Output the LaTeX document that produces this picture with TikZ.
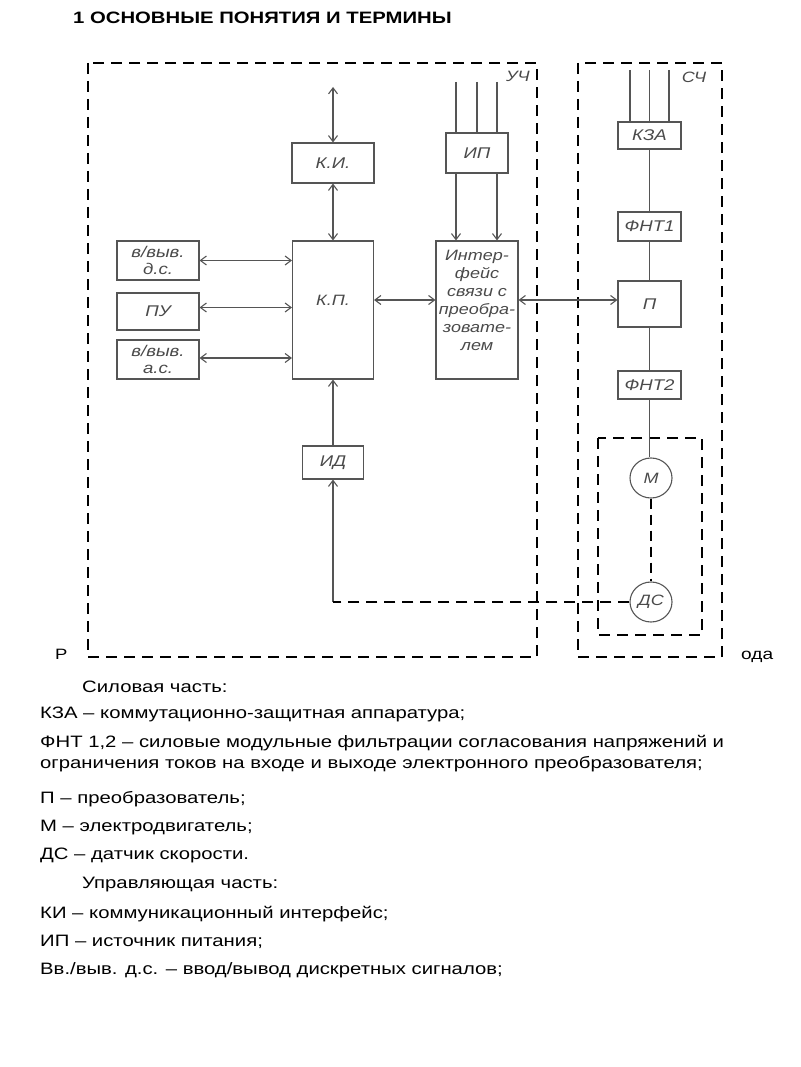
\documentclass[tikz,border=0pt]{standalone}
\usepackage{fontspec}
\setmainfont{Liberation Sans}
\newfontfamily\bodyfont[FakeStretch=1.23]{Liberation Sans}
\newfontfamily\diafont[FakeStretch=1.2]{Liberation Sans}
\usetikzlibrary{arrows.meta,shapes.geometric}
\definecolor{lg}{HTML}{555555}
\definecolor{tg}{HTML}{4A4A4A}
\begin{document}
\begin{tikzpicture}[x=1pt,y=-1pt,
  >={Straight Barb[length=6pt,width=9pt]},
  blk/.style={draw=lg, line width=1.1pt, fill=white, inner sep=0pt,
    font=\diafont\itshape\fontsize{15.5}{17}\selectfont, text=tg, align=center},
  ring/.style={ellipse, draw=lg, line width=1.1pt, minimum width=42pt,
    minimum height=40pt, inner sep=0pt,
    font=\diafont\itshape\fontsize{15}{16}\selectfont, text=tg},
  dtext/.style={inner sep=0pt, font=\diafont\itshape\fontsize{15}{18}\selectfont,
    text=tg, align=center},
  wire/.style={draw=lg, line width=1.1pt},
  biarrow/.style={wire,<->},
  frame/.style={draw=black, line width=2.4pt, dash pattern=on 11pt off 7pt},
  body/.style={anchor=base west, inner sep=0pt,
    font=\bodyfont\fontsize{16.5}{20}\selectfont, text=black}
]
\useasboundingbox (0,0) rectangle (800,1067);

% title
\node[anchor=base west, inner sep=0pt, font=\bodyfont\bfseries\fontsize{16.5}{20}\selectfont]
  (title) at (73,24) {1 ОСНОВНЫЕ ПОНЯТИЯ И ТЕРМИНЫ};

% caption fragments
\begin{scope}
  \clip (0,620) rectangle (67,680);
  \node[body, font=\bodyfont\fontsize{15}{19}\selectfont] (capl) at (55,659) {Рис};
\end{scope}
\node[body, font=\bodyfont\fontsize{15.5}{19}\selectfont] (capr) at (741,659) {ода};

% frames
\draw[frame] (88,63) rectangle (537,657);
\draw[frame] (578,63) rectangle (722,657);
\draw[frame] (598,438) rectangle (702,635);
\node[dtext] (uch) at (518,76) {УЧ};
\node[dtext] (sch) at (694,77) {СЧ};

% control part blocks
\node[blk, minimum width=82pt, minimum height=40pt] (ki) at (333,163) {К.И.};
\node[blk, minimum width=62pt, minimum height=40pt] (ip) at (477,153) {ИП};
\node[blk, minimum width=81pt, minimum height=138pt] (kp) at (333,310) {};
\node[dtext] (kplabel) at (333,300) {К.П.};
\node[blk, minimum width=82pt, minimum height=138pt] (ifc) at (477,310) {};
\node[dtext] (ifclabel) at (477,300) {Интер-\\фейс\\связи с\\преобра-\\зовате-\\лем};
\node[blk, minimum width=82pt, minimum height=39pt] (dsin) at (158,260.5) {в/выв.\\д.с.};
\node[blk, minimum width=82pt, minimum height=37pt] (pu) at (158,311.5) {ПУ};
\node[blk, minimum width=82pt, minimum height=39pt] (asin) at (158,359.5) {в/выв.\\а.с.};
\node[blk, minimum width=61pt, minimum height=33pt] (id) at (333,462.5) {ИД};

% power part blocks
\node[blk, minimum width=63pt, minimum height=27pt] (kza) at (649.5,135.5) {КЗА};
\node[blk, minimum width=63pt, minimum height=29pt] (fnt1) at (649.5,226.5) {ФНТ1};
\node[blk, minimum width=63pt, minimum height=46pt] (pp) at (649.5,304) {П};
\node[blk, minimum width=63pt, minimum height=28pt] (fnt2) at (649.5,385) {ФНТ2};
\node[ring] (mot) at (651,478) {М};
\node[ring] (ds) at (651,602) {ДС};

% free ends
\coordinate (kitop) at (333,87);
\coordinate (ipt1) at (456,82);
\coordinate (ipt2) at (477,82);
\coordinate (ipt3) at (497,82);
\coordinate (kzt1) at (630,70);
\coordinate (kzt2) at (649.5,70);
\coordinate (kzt3) at (669,70);
\coordinate (dscorner) at (333,602);

% control connectors
\draw[biarrow] (kitop) -- (ki.north);
\draw[biarrow] (ki.south) -- (kp.north);
\draw[wire] (ipt1) -- (ipt1 |- ip.north);
\draw[wire] (ipt2) -- (ipt2 |- ip.north);
\draw[wire] (ipt3) -- (ipt3 |- ip.north);
\draw[wire,->] (ipt1 |- ip.south) -- (ipt1 |- ifc.north);
\draw[wire,->] (ipt3 |- ip.south) -- (ipt3 |- ifc.north);
\draw[biarrow] (dsin.east) -- (dsin.east -| kp.west);
\draw[biarrow] ([yshift=4pt]pu.east) -- ([yshift=4pt]pu.east -| kp.west);
\draw[biarrow] ([yshift=1.5pt]asin.east) -- ([yshift=1.5pt]asin.east -| kp.west);
\draw[biarrow] (kp.east |- kplabel) -- (ifc.west |- kplabel);
\draw[biarrow] (ifc.east |- kplabel) -- (pp.west |- kplabel);
\draw[wire,->] (id.north) -- (kp.south);
\draw[wire,->] (dscorner) -- (id.south);
\draw[frame] (ds.west) -- (dscorner);

% power connectors
\draw[wire] (kzt1) -- (kzt1 |- kza.north);
\draw[wire] (kzt2) -- (kzt2 |- kza.north);
\draw[wire] (kzt3) -- (kzt3 |- kza.north);
\draw[wire] (kza.south) -- (fnt1.north);
\draw[wire] (fnt1.south) -- (pp.north);
\draw[wire] (pp.south) -- (fnt2.north);
\draw[wire] (fnt2.south) -- (fnt2.south |- mot.north);
\draw[draw=black, line width=2.4pt, dash pattern=on 10pt off 6pt] (mot.south) -- (ds.north);

% legend text
\node[body] (t1) at (82,692) {Силовая часть:};
\node[body] (t2) at (40,718) {КЗА – коммутационно-защитная аппаратура;};
\node[body] (t3) at (40,747) {ФНТ 1,2 – силовые модульные фильтрации согласования напряжений и};
\node[body] (t4) at (40,768) {ограничения токов на входе и выходе электронного преобразователя;};
\node[body] (t5) at (40,803) {П – преобразователь;};
\node[body] (t6) at (40,831) {М – электродвигатель;};
\node[body] (t7) at (40,859) {ДС – датчик скорости.};
\node[body] (t8) at (82,888) {Управляющая часть:};
\node[body] (t9) at (40,918) {КИ – коммуникационный интерфейс;};
\node[body] (t10) at (40,946) {ИП – источник питания;};
\node[body] (t11) at (40,974) {Вв./выв. д.с. – ввод/вывод дискретных сигналов;};
\end{tikzpicture}
\end{document}
